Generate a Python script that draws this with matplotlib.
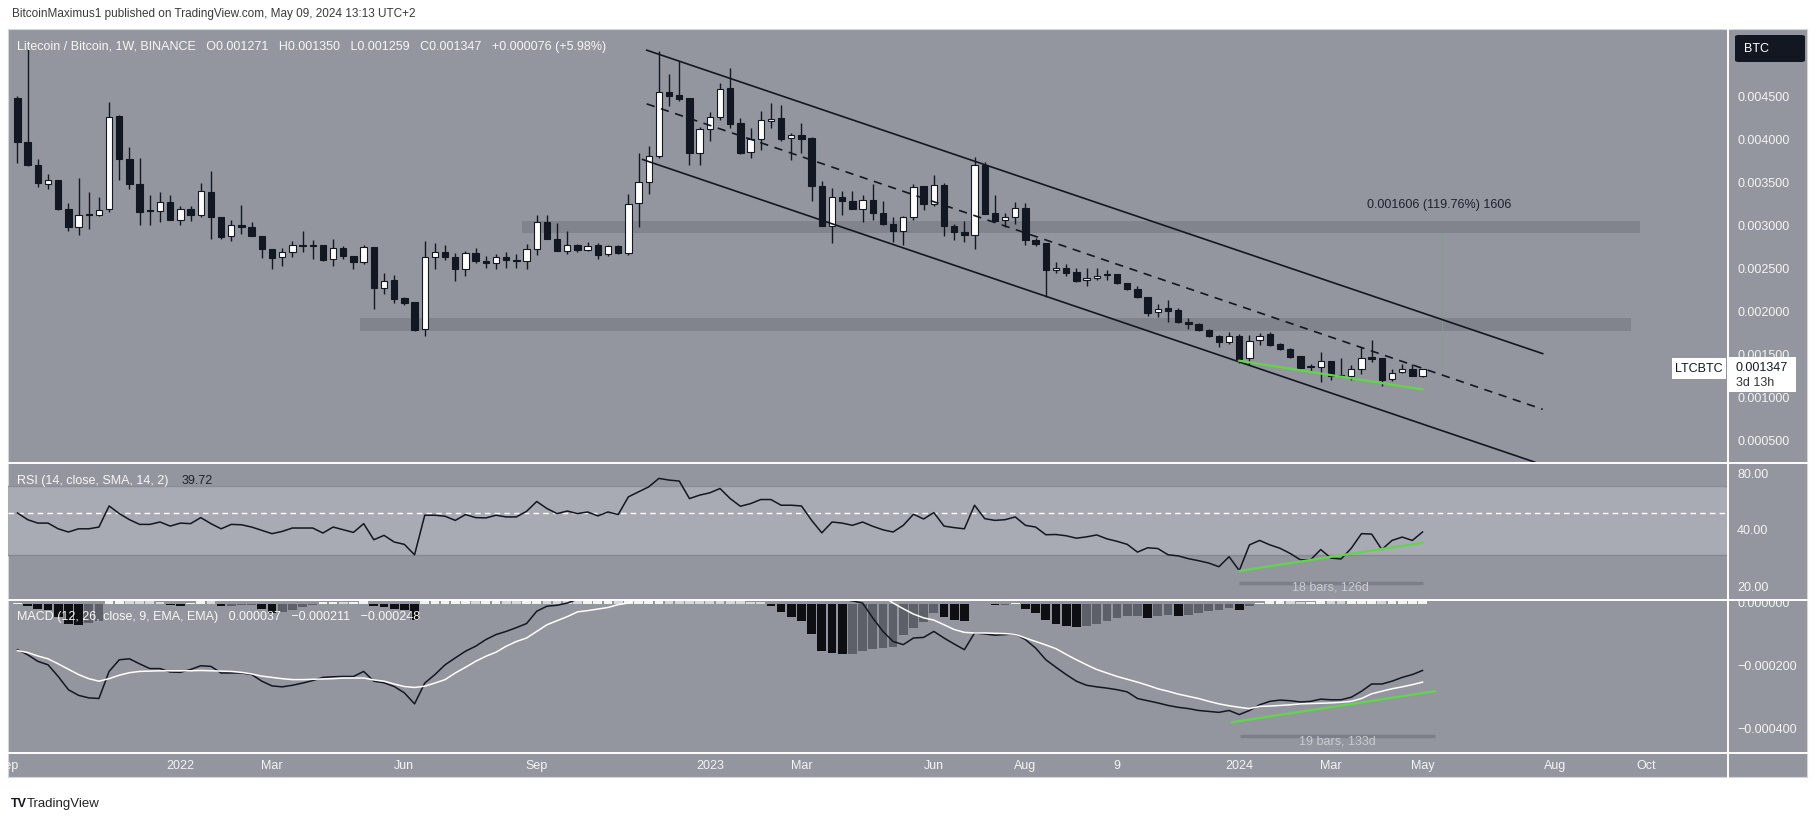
import matplotlib
matplotlib.use("Agg")
import matplotlib.pyplot as plt
import numpy as np
from matplotlib.patches import Rectangle, FancyBboxPatch
from matplotlib.lines import Line2D
from matplotlib.transforms import blended_transform_factory, Bbox, TransformedBbox
from matplotlib.ticker import NullLocator

plt.rcParams['font.family'] = ['Liberation Sans', 'DejaVu Sans']

W, H = 1818, 824

# weekly LTC/BTC candles, first bar = week of 2021-09-13
opens = [0.004502, 0.003985, 0.003725, 0.003503, 0.003550, 0.003208, 0.003002, 0.003142, 0.003142, 0.003212,
         0.004288, 0.003791, 0.003499, 0.003188, 0.003188, 0.003289, 0.003084, 0.003208, 0.003142, 0.003406,
         0.003115, 0.002889, 0.003025, 0.002998, 0.002889, 0.002742, 0.002648, 0.002707, 0.002784, 0.002781,
         0.002788, 0.002625, 0.002753, 0.002656, 0.002590, 0.002769, 0.002295, 0.002384, 0.002171, 0.002124,
         0.001809, 0.002648, 0.002707, 0.002648, 0.002509, 0.002695, 0.002606, 0.002579, 0.002645, 0.002610,
         0.002606, 0.002746, 0.003056, 0.002858, 0.002722, 0.002792, 0.002734, 0.002792, 0.002683, 0.002773,
         0.002695, 0.003278, 0.003523, 0.003822, 0.004572, 0.004529, 0.004494, 0.003861, 0.004133, 0.004280,
         0.004610, 0.004202, 0.003872, 0.004016, 0.004230, 0.004261, 0.004035, 0.004063, 0.004028, 0.003480,
         0.003006, 0.003348, 0.003305, 0.003208, 0.003317, 0.003161, 0.003033, 0.002948, 0.003115, 0.003472,
         0.003266, 0.003492, 0.003014, 0.002944, 0.002901, 0.003725, 0.003161, 0.003076, 0.003115, 0.003220,
         0.002850, 0.002812, 0.002497, 0.002520, 0.002474, 0.002384, 0.002404, 0.002443, 0.002450, 0.002345,
         0.002276, 0.002182, 0.002011, 0.002054, 0.002035, 0.001899, 0.001872, 0.001800, 0.001732, 0.001658,
         0.001732, 0.001472, 0.001685, 0.001755, 0.001639, 0.001581, 0.001499, 0.001367, 0.001367, 0.001445,
         0.001278, 0.001266, 0.001344, 0.001483, 0.001472, 0.001227, 0.001309, 0.001344, 0.001271]
highs = [0.004521, 0.005065, 0.003791, 0.003620, 0.003550, 0.003278, 0.003569, 0.003406, 0.003348, 0.004451,
         0.004296, 0.003930, 0.003802, 0.003367, 0.003406, 0.003367, 0.003247, 0.003247, 0.003511, 0.003655,
         0.003115, 0.003076, 0.003258, 0.003052, 0.002889, 0.002742, 0.002753, 0.002831, 0.002951, 0.002850,
         0.002788, 0.002858, 0.002773, 0.002656, 0.002792, 0.002769, 0.002462, 0.002443, 0.002190, 0.002124,
         0.002831, 0.002812, 0.002792, 0.002695, 0.002715, 0.002753, 0.002656, 0.002687, 0.002703, 0.002683,
         0.002800, 0.003142, 0.003142, 0.003045, 0.002955, 0.002800, 0.002820, 0.002812, 0.002792, 0.002792,
         0.003383, 0.003861, 0.003946, 0.005045, 0.004781, 0.004929, 0.004494, 0.004164, 0.004335, 0.004669,
         0.004851, 0.004261, 0.004152, 0.004346, 0.004436, 0.004412, 0.004094, 0.004210, 0.004047, 0.003530,
         0.003453, 0.003422, 0.003414, 0.003367, 0.003503, 0.003297, 0.003115, 0.003130, 0.003503, 0.003472,
         0.003608, 0.003511, 0.003037, 0.003064, 0.003814, 0.003752, 0.003367, 0.003161, 0.003289, 0.003278,
         0.002870, 0.002812, 0.002590, 0.002567, 0.002520, 0.002520, 0.002520, 0.002501, 0.002450, 0.002353,
         0.002314, 0.002190, 0.002105, 0.002151, 0.002054, 0.001938, 0.001885, 0.001810, 0.001745, 0.001783,
         0.001750, 0.001744, 0.001763, 0.001783, 0.001650, 0.001590, 0.001499, 0.001402, 0.001549, 0.001445,
         0.001472, 0.001394, 0.001600, 0.001685, 0.001472, 0.001344, 0.001406, 0.001402, 0.001350]
lows = [0.003744, 0.003705, 0.003464, 0.003441, 0.003200, 0.002955, 0.002901, 0.002975, 0.003122, 0.003169,
        0.003542, 0.003441, 0.003017, 0.003025, 0.003060, 0.003076, 0.003017, 0.003064, 0.003111, 0.002858,
        0.002862, 0.002831, 0.002920, 0.002889, 0.002637, 0.002516, 0.002551, 0.002645, 0.002703, 0.002625,
        0.002606, 0.002551, 0.002629, 0.002516, 0.002567, 0.002042, 0.002221, 0.002120, 0.002093, 0.001790,
        0.001735, 0.002512, 0.002617, 0.002377, 0.002431, 0.002579, 0.002520, 0.002509, 0.002528, 0.002520,
        0.002512, 0.002668, 0.002858, 0.002715, 0.002687, 0.002703, 0.002718, 0.002629, 0.002656, 0.002680,
        0.002672, 0.002998, 0.003383, 0.003795, 0.004404, 0.004463, 0.003725, 0.003725, 0.003997, 0.004241,
        0.004152, 0.003853, 0.003795, 0.003899, 0.004144, 0.003997, 0.003775, 0.003861, 0.003297, 0.003006,
        0.002812, 0.003134, 0.003208, 0.003052, 0.003076, 0.003017, 0.002823, 0.002784, 0.003084, 0.003200,
        0.003247, 0.002889, 0.002843, 0.002823, 0.002742, 0.003153, 0.003056, 0.002998, 0.003033, 0.002784,
        0.002781, 0.002182, 0.002462, 0.002431, 0.002357, 0.002314, 0.002384, 0.002384, 0.002334, 0.002268,
        0.002178, 0.001965, 0.001957, 0.001899, 0.001887, 0.001809, 0.001790, 0.001725, 0.001600, 0.001640,
        0.001414, 0.001394, 0.001627, 0.001610, 0.001570, 0.001480, 0.001344, 0.001328, 0.001192, 0.001219,
        0.001258, 0.001219, 0.001289, 0.001433, 0.001153, 0.001211, 0.001297, 0.001270, 0.001259]
closes = [0.003985, 0.003725, 0.003511, 0.003542, 0.003208, 0.002998, 0.003134, 0.003134, 0.003200, 0.004280,
          0.003791, 0.003499, 0.003169, 0.003180, 0.003286, 0.003076, 0.003208, 0.003134, 0.003414, 0.003115,
          0.002878, 0.003017, 0.002998, 0.002889, 0.002746, 0.002637, 0.002703, 0.002792, 0.002781, 0.002777,
          0.002617, 0.002749, 0.002656, 0.002590, 0.002765, 0.002295, 0.002377, 0.002167, 0.002112, 0.001801,
          0.002648, 0.002707, 0.002645, 0.002509, 0.002695, 0.002598, 0.002579, 0.002645, 0.002610, 0.002606,
          0.002742, 0.003052, 0.002858, 0.002715, 0.002792, 0.002726, 0.002781, 0.002676, 0.002773, 0.002695,
          0.003270, 0.003519, 0.003822, 0.004572, 0.004521, 0.004490, 0.003861, 0.004133, 0.004280, 0.004607,
          0.004191, 0.003861, 0.004016, 0.004237, 0.004257, 0.004016, 0.004063, 0.004024, 0.003472, 0.003006,
          0.003348, 0.003297, 0.003208, 0.003309, 0.003161, 0.003033, 0.002948, 0.003115, 0.003464, 0.003266,
          0.003488, 0.003006, 0.002936, 0.002901, 0.003725, 0.003153, 0.003072, 0.003115, 0.003220, 0.002843,
          0.002804, 0.002501, 0.002520, 0.002470, 0.002377, 0.002404, 0.002431, 0.002440, 0.002353, 0.002276,
          0.002182, 0.002004, 0.002050, 0.002027, 0.001899, 0.001872, 0.001800, 0.001732, 0.001658, 0.001732,
          0.001460, 0.001678, 0.001736, 0.001627, 0.001577, 0.001491, 0.001363, 0.001370, 0.001445, 0.001270,
          0.001266, 0.001344, 0.001480, 0.001460, 0.001219, 0.001305, 0.001344, 0.001271, 0.001347]

rsi = [50.2, 46.2, 44.3, 44.3, 41.3, 39.7, 41.3, 41.3, 42.2, 54.7,
       49.8, 46.2, 43.6, 43.6, 44.9, 42.7, 44.3, 44.0, 47.4, 44.0,
       41.3, 43.6, 43.4, 42.2, 40.5, 38.9, 40.0, 41.7, 41.7, 41.7,
       39.2, 42.2, 40.8, 39.5, 44.0, 36.1, 38.1, 35.1, 34.1, 30.0,
       48.8, 48.8, 48.2, 45.8, 49.2, 47.4, 47.2, 48.8, 47.8, 47.8,
       51.2, 57.8, 53.0, 49.8, 51.4, 49.8, 50.8, 48.4, 50.8, 49.2,
       61.2, 65.1, 69.2, 76.8, 75.2, 74.3, 59.9, 62.5, 64.3, 67.8,
       59.9, 54.5, 56.3, 59.2, 59.2, 55.2, 55.2, 54.7, 45.8, 39.3,
       44.9, 44.3, 43.1, 44.9, 42.6, 40.8, 39.7, 43.1, 49.4, 46.6,
       50.4, 42.7, 41.9, 41.3, 55.2, 46.8, 45.8, 46.2, 47.8, 43.1,
       42.2, 38.4, 38.5, 37.9, 36.8, 37.4, 38.3, 36.5, 35.4, 34.1,
       31.0, 32.7, 32.4, 30.0, 29.6, 28.6, 27.9, 27.1, 25.9, 29.3,
       24.7, 33.9, 35.8, 33.9, 32.5, 30.5, 28.2, 28.2, 32.0, 28.8,
       28.5, 32.5, 38.9, 38.7, 32.0, 35.8, 37.3, 35.8, 39.72]

macd = [-0.000145, -0.000161, -0.000182, -0.000193, -0.000230, -0.000272, -0.000290, -0.000298, -0.000300, -0.000214,
        -0.000177, -0.000174, -0.000190, -0.000205, -0.000205, -0.000216, -0.000217, -0.000208, -0.000196, -0.000198,
        -0.000219, -0.000219, -0.000219, -0.000224, -0.000245, -0.000260, -0.000263, -0.000258, -0.000251, -0.000243,
        -0.000233, -0.000231, -0.000230, -0.000230, -0.000214, -0.000245, -0.000250, -0.000262, -0.000282, -0.000317,
        -0.000251, -0.000224, -0.000193, -0.000171, -0.000150, -0.000134, -0.000113, -0.000097, -0.000087, -0.000075,
        -0.000062, -0.000023, -0.000007, -0.000004, 0.000003, 0.000015, 0.000020, 0.000025, 0.000030, 0.000035,
        0.000070, 0.000100, 0.000130, 0.000190, 0.000200, 0.000210, 0.000190, 0.000190, 0.000195, 0.000200,
        0.000190, 0.000175, 0.000170, 0.000170, 0.000155, 0.000137, 0.000118, 0.000105, 0.000060, 0.000028,
        0.000020, 0.000015, 0.000010, 0.000003, -0.000044, -0.000087, -0.000119, -0.000129, -0.000108, -0.000106,
        -0.000087, -0.000108, -0.000127, -0.000145, -0.000092, -0.000095, -0.000099, -0.000097, -0.000095, -0.000113,
        -0.000140, -0.000177, -0.000201, -0.000224, -0.000245, -0.000258, -0.000263, -0.000267, -0.000272, -0.000279,
        -0.000300, -0.000307, -0.000314, -0.000322, -0.000328, -0.000332, -0.000338, -0.000341, -0.000344, -0.000338,
        -0.000351, -0.000338, -0.000320, -0.000309, -0.000305, -0.000307, -0.000311, -0.000309, -0.000302, -0.000304,
        -0.000304, -0.000296, -0.000277, -0.000254, -0.000254, -0.000245, -0.000233, -0.000224, -0.000211]
signal = [-0.000148, -0.000154, -0.000165, -0.000174, -0.000190, -0.000207, -0.000224, -0.000237, -0.000245, -0.000237,
          -0.000226, -0.000218, -0.000214, -0.000213, -0.000212, -0.000212, -0.000212, -0.000212, -0.000211, -0.000212,
          -0.000213, -0.000214, -0.000217, -0.000222, -0.000229, -0.000233, -0.000237, -0.000240, -0.000240, -0.000239,
          -0.000238, -0.000237, -0.000235, -0.000235, -0.000235, -0.000241, -0.000245, -0.000254, -0.000262, -0.000265,
          -0.000261, -0.000251, -0.000240, -0.000219, -0.000201, -0.000182, -0.000166, -0.000153, -0.000134, -0.000119,
          -0.000108, -0.000087, -0.000066, -0.000053, -0.000040, -0.000025, -0.000021, -0.000016, -0.000011, -0.000002,
          0.000003, 0.000020, 0.000040, 0.000060, 0.000085, 0.000105, 0.000120, 0.000135, 0.000145, 0.000152,
          0.000158, 0.000162, 0.000164, 0.000165, 0.000162, 0.000162, 0.000160, 0.000158, 0.000155, 0.000150,
          0.000140, 0.000125, 0.000110, 0.000085, 0.000055, 0.000025, 0.000003, -0.000015, -0.000032, -0.000044,
          -0.000051, -0.000066, -0.000081, -0.000090, -0.000092, -0.000092, -0.000093, -0.000094, -0.000096, -0.000108,
          -0.000119, -0.000130, -0.000142, -0.000160, -0.000177, -0.000193, -0.000208, -0.000219, -0.000230, -0.000239,
          -0.000248, -0.000258, -0.000269, -0.000277, -0.000286, -0.000293, -0.000300, -0.000309, -0.000317, -0.000323,
          -0.000328, -0.000332, -0.000325, -0.000324, -0.000322, -0.000320, -0.000317, -0.000316, -0.000315, -0.000314,
          -0.000312, -0.000309, -0.000300, -0.000285, -0.000277, -0.000269, -0.000263, -0.000256, -0.000248]
hist = [0.000003, -0.000007, -0.000017, -0.000019, -0.000040, -0.000065, -0.000066, -0.000061, -0.000055, 0.000023,
        0.000049, 0.000044, 0.000024, 0.000008, 0.000007, -0.000004, -0.000005, 0.000004, 0.000015, 0.000014,
        -0.000006, -0.000005, -0.000002, -0.000002, -0.000016, -0.000027, -0.000026, -0.000018, -0.000011, -0.000004,
        0.000005, 0.000006, 0.000005, 0.000005, 0.000021, -0.000006, -0.000010, -0.000015, -0.000020, -0.000052,
        0.000010, 0.000027, 0.000047, 0.000048, 0.000051, 0.000048, 0.000053, 0.000056, 0.000047, 0.000044,
        0.000046, 0.000064, 0.000059, 0.000049, 0.000043, 0.000040, 0.000041, 0.000041, 0.000041, 0.000037,
        0.000067, 0.000080, 0.000090, 0.000130, 0.000115, 0.000105, 0.000070, 0.000055, 0.000050, 0.000048,
        0.000032, 0.000013, 0.000006, 0.000005, -0.000007, -0.000025, -0.000042, -0.000053, -0.000095, -0.000150,
        -0.000156, -0.000159, -0.000159, -0.000148, -0.000142, -0.000140, -0.000135, -0.000097, -0.000076, -0.000057,
        -0.000029, -0.000042, -0.000050, -0.000053, 0.000001, -0.000001, -0.000004, -0.000004, 0.000003, -0.000015,
        -0.000029, -0.000050, -0.000063, -0.000071, -0.000073, -0.000071, -0.000062, -0.000053, -0.000044, -0.000039,
        -0.000039, -0.000044, -0.000039, -0.000036, -0.000039, -0.000034, -0.000029, -0.000023, -0.000019, -0.000013,
        -0.000018, -0.000007, 0.000004, 0.000015, 0.000017, 0.000013, 0.000006, 0.000007, 0.000013, 0.000010,
        0.000008, 0.000013, 0.000023, 0.000031, 0.000023, 0.000024, 0.000030, 0.000032, 0.000037]

price_ticks = [0.0005, 0.0010, 0.0015, 0.0020, 0.0025, 0.0030, 0.0035, 0.0040, 0.0045]
rsi_ticks = [20, 40, 80]
macd_ticks = [0.0, -0.0002, -0.0004]
time_pos = [-1, 16, 25, 38, 51, 68, 77, 90, 99, 108, 120, 129, 138, 151, 160]
time_labels = ['Sep', '2022', 'Mar', 'Jun', 'Sep', '2023', 'Mar', 'Jun', 'Aug', '9',
               '2024', 'Mar', 'May', 'Aug', 'Oct']

# drawings (bar index, value)
channel_top = [(61.8, 0.005054), (149.8, 0.001527)]
channel_mid = [(61.8, 0.004430), (149.8, 0.000880)]
channel_bot = [(61.4, 0.003783), (149.0, 0.000267)]
zones = [(49.6, 159.4, 0.002929, 0.003064), (33.6, 158.5, 0.001794, 0.001938)]
price_div = [(120, 0.001445), (138, 0.001111)]
rsi_div = [(120, 24.6), (138, 34.8)]
macd_div = [(119.3, -0.000375), (139.2, -0.000277)]
range_x, range_lo, range_hi = 139.9, 0.001374, 0.002930

BG = '#93969e'
DARK = '#131722'
AXTXT = '#f4f4f4'
GREEN = '#62d64a'
XLIM = (-0.93, 168.0)


def panel(x0, y0, x1, y1):
    return [x0 / W, 1 - y1 / H, (x1 - x0) / W, (y1 - y0) / H]


def fx(px):
    return px / W


def fy(py):
    return 1 - py / H


fig = plt.figure(figsize=(W / 100, H / 100), dpi=100)
fig.patch.set_facecolor('white')

frame = fig.add_axes(panel(8, 29, 1807, 777))
frame.set_facecolor(BG)
frame.set_xticks([])
frame.set_yticks([])
for sp in frame.spines.values():
    sp.set_color('#d4d6dc')

ax = fig.add_axes(panel(8, 29, 1728, 463))
ax_rsi = fig.add_axes(panel(8, 463, 1728, 600))
ax_macd = fig.add_axes(panel(8, 600, 1728, 753))
ax_time = fig.add_axes(panel(8, 753, 1728, 777))
for a in (ax, ax_rsi, ax_macd, ax_time):
    a.set_facecolor('none')
    a.set_xlim(*XLIM)
    a.set_xticks([])
    a.set_yticks([])
    for sp in a.spines.values():
        sp.set_visible(False)


def right_labels(a, values, labels, clip=None):
    tr = blended_transform_factory(a.transAxes, a.transData)
    for v, s in zip(values, labels):
        t = a.text(1.0053, v, s, transform=tr, ha='left', va='center',
                   fontsize=9, color=AXTXT, clip_on=clip is not None)
        if clip is not None:
            t.set_clip_box(clip)


# ---- price panel ----
x = np.arange(len(opens))
o, h, l, c = map(np.array, (opens, highs, lows, closes))
ax.set_ylim(0.000256, 0.0053)
for x0, x1, y0, y1 in zones:
    ax.add_patch(Rectangle((x0, y0), x1 - x0, y1 - y0, color='#81848c', lw=0, zorder=1))

up = c >= o
body_lo = np.minimum(o, c)
body_h = np.maximum(np.abs(c - o), 0.000012)
ax.vlines(x, l, h, color=DARK, lw=1.0, zorder=3)
ax.bar(x[up], body_h[up], bottom=body_lo[up], width=0.62, color='white',
       edgecolor=DARK, lw=0.8, zorder=3.5)
ax.bar(x[~up], body_h[~up], bottom=body_lo[~up], width=0.62, color=DARK,
       edgecolor=DARK, lw=0.8, zorder=3.5)

for pts, ls in ((channel_top, '-'), (channel_mid, (0, (5, 4))), (channel_bot, '-')):
    ax.plot([pts[0][0], pts[1][0]], [pts[0][1], pts[1][1]], color=DARK, lw=1.2, ls=ls, zorder=4)
ax.plot([p[0] for p in price_div], [p[1] for p in price_div], color=GREEN, lw=1.6, zorder=5)
ax.plot([range_x, range_x], [range_lo, range_hi], color='#7fa27f', lw=0.8, alpha=0.7, zorder=2)
ax.text(139.6, 0.003255, '0.001606 (119.76%) 1606', ha='center', va='center',
        fontsize=9, color='#1e222d', zorder=6)
right_labels(ax, price_ticks, [f'{v:.6f}' for v in price_ticks])

# ---- RSI panel ----
ax_rsi.set_yscale('log')
ax_rsi.set_ylim(17.2, 92.8)
ax_rsi.yaxis.set_minor_locator(NullLocator())
ax_rsi.set_yticks([])
ax_rsi.axhspan(30, 70, color='#a8abb3', lw=0, zorder=0)
ax_rsi.axhline(70, color='#8a8d95', lw=1, zorder=1)
ax_rsi.axhline(30, color='#858890', lw=1, zorder=1)
ax_rsi.axhline(50, color='white', lw=1, ls=(0, (4, 3)), zorder=1)
ax_rsi.plot(x, rsi, color=DARK, lw=1.1, zorder=3)
ax_rsi.plot([p[0] for p in rsi_div], [p[1] for p in rsi_div], color=GREEN, lw=1.6, zorder=4)
ax_rsi.plot([120, 138], [21.1, 21.1], color='#7c7f87', lw=2.5, solid_capstyle='butt', zorder=2)
ax_rsi.text(129, 20.0, '18 bars, 126d', ha='center', va='center', fontsize=9, color='#c9cbd1', zorder=5)
right_labels(ax_rsi, rsi_ticks, [f'{v:.2f}' for v in rsi_ticks])

# ---- MACD panel ----
hv = np.array(hist)
prev = np.r_[hv[0], hv[:-1]]
cols = []
for cur, pv in zip(hv, prev):
    if cur >= 0:
        cols.append('#f2f2f2' if cur >= pv else '#d6d8dd')
    else:
        cols.append('#0e0f12' if cur < pv else '#5d6068')
ax_macd.set_ylim(-0.000473, 0.0000127)
ax_macd.bar(x, hv, width=0.86, color=cols, lw=0, zorder=2)
ax_macd.plot(x, macd, color=DARK, lw=1.1, zorder=3)
ax_macd.plot(x, signal, color='white', lw=1.1, zorder=3)
ax_macd.plot([p[0] for p in macd_div], [p[1] for p in macd_div], color=GREEN, lw=1.6, zorder=4)
ax_macd.plot([120.1, 139.2], [-0.000418, -0.000418], color='#7c7f87', lw=2.5, solid_capstyle='butt', zorder=2)
ax_macd.text(129.6, -0.000437, '19 bars, 133d', ha='center', va='center', fontsize=9, color='#c9cbd1', zorder=5)
macd_clip = TransformedBbox(Bbox.from_extents(fx(1728), fy(753), fx(1807), fy(601)), fig.transFigure)
right_labels(ax_macd, macd_ticks, ['0.000000', '\u22120.000200', '\u22120.000400'], clip=macd_clip)

# ---- time axis ----
ax_time.set_ylim(0, 1)
for p, s in zip(time_pos, time_labels):
    ax_time.text(p, 0.45, s, ha='center', va='center', fontsize=9, color=AXTXT, clip_on=True)

# panel separators
for yy in (463, 600, 753):
    fig.add_artist(Line2D([fx(8), fx(1807)], [fy(yy), fy(yy)], color='white', lw=1.4))
fig.add_artist(Line2D([fx(1728), fx(1728)], [fy(29), fy(777)], color='white', lw=1.4))

# legends
fig.text(fx(12), fy(14), 'BitcoinMaximus1 published on TradingView.com, May 09, 2024 13:13 UTC+2',
         fontsize=8.5, color='#3a3a3a', va='center')
fig.text(fx(17), fy(47), 'Litecoin / Bitcoin, 1W, BINANCE   O0.001271   H0.001350   L0.001259   '
         'C0.001347   +0.000076 (+5.98%)', fontsize=9, color='#f7f7f7', va='center')
fig.text(fx(17), fy(481), 'RSI (14, close, SMA, 14, 2)', fontsize=9, color='#f7f7f7', va='center')
fig.text(fx(182), fy(481), '39.72', fontsize=9, color='#1e222d', va='center')
fig.text(fx(17), fy(617), 'MACD (12, 26, close, 9, EMA, EMA)   0.000037   \u22120.000211   \u22120.000248',
         fontsize=9, color='#f7f7f7', va='center')

# right-side boxes
fig.add_artist(FancyBboxPatch((fx(1735), fy(62)), fx(70), 27 / H, boxstyle='round,pad=0,rounding_size=0.002',
                              transform=fig.transFigure, color=DARK, lw=0))
fig.text(fx(1744), fy(48.5), 'BTC', fontsize=9, color='white', va='center')
fig.add_artist(Rectangle((fx(1672), fy(379)), fx(54), 21 / H, transform=fig.transFigure,
                         color='white', lw=0))
fig.text(fx(1699), fy(368.5), 'LTCBTC', fontsize=9, color=DARK, va='center', ha='center')
fig.add_artist(Rectangle((fx(1729), fy(392)), fx(67), 35 / H, transform=fig.transFigure,
                         color='white', lw=0))
fig.text(fx(1736), fy(368), '0.001347', fontsize=9, color=DARK, va='center')
fig.text(fx(1736), fy(383), '3d 13h', fontsize=9, color='#333333', va='center')

# footer
fig.text(fx(11), fy(804), 'TV', fontsize=9, color=DARK, va='center', weight='heavy')
fig.text(fx(27), fy(804), 'TradingView', fontsize=9.5, color='#222222', va='center')

fig.savefig('out.png', dpi=100, facecolor='white')
